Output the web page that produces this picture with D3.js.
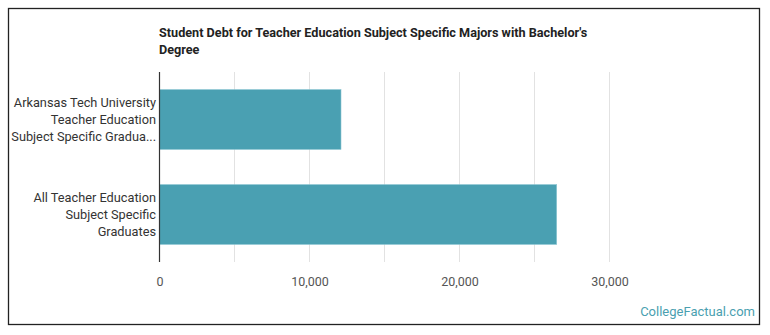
<!DOCTYPE html>
<html><head><meta charset="utf-8">
<script src="https://cdnjs.cloudflare.com/ajax/libs/d3/7.8.5/d3.min.js"></script>
<style>body{margin:0;background:#fff;}svg{display:block;font-family:Roboto,sans-serif;}</style>
</head><body><svg id="c" width="770" height="335"></svg>
<script>
const categories = [
  ["Arkansas Tech University", "Teacher Education", "Subject Specific Gradua..."],
  ["All Teacher Education", "Subject Specific", "Graduates"]
];
const values = [12100, 26480];
const tickValues = [0, 10000, 20000, 30000];
const gridValues = [0, 5000, 10000, 15000, 20000, 25000, 30000];
const titleLines = ["Student Debt for Teacher Education Subject Specific Majors with Bachelor's", "Degree"];

(function () {
const svg = d3.select("#c");
svg.append("rect").attr("x", 8.5).attr("y", 8.5).attr("width", 751).attr("height", 316)
  .attr("fill", "#fff").attr("stroke", "#222").attr("stroke-width", 1.3);

const plotLeft = 159.5, plotTop = 72, plotBottom = 262;
const x = d3.scaleLinear().domain([0, 10000]).range([plotLeft, plotLeft + 150]);
const y = d3.scaleBand().domain(d3.range(categories.length)).range([plotTop, plotBottom]).paddingInner(0.37).paddingOuter(0.185);

svg.append("g").selectAll("line").data(gridValues).join("line")
  .attr("x1", d => x(d)).attr("x2", d => x(d)).attr("y1", plotTop).attr("y2", plotBottom)
  .attr("stroke", "#e2e2e2").attr("stroke-width", 1);

svg.append("g").selectAll("rect").data(values).join("rect")
  .attr("x", x(0)).attr("y", (d, i) => y(i)).attr("width", d => x(d) - x(0)).attr("height", y.bandwidth())
  .attr("fill", "#4aa0b2").attr("stroke", "#8cc6d2").attr("stroke-width", 0.6);

svg.append("line").attr("x1", x(0)).attr("x2", x(0)).attr("y1", plotTop).attr("y2", plotBottom)
  .attr("stroke", "#333").attr("stroke-width", 1.2);

const ax = d3.axisBottom(x).tickValues(tickValues).tickFormat(d3.format(",")).tickSize(0).tickPadding(0);
const axg = svg.append("g").attr("transform", `translate(0,${plotBottom})`).call(ax);
axg.select(".domain").remove();
axg.selectAll("text").attr("y", 24).attr("dy", 0).attr("font-size", 12.5).attr("fill", "#555").attr("font-family", "Roboto, sans-serif");

const lg = svg.append("g");
categories.forEach((lines, i) => {
  const cy = y(i) + y.bandwidth() / 2;
  lines.forEach((t, j) => {
    lg.append("text").attr("x", 156).attr("y", cy + (j - 1) * 16.6 + 4.5)
      .attr("text-anchor", "end").attr("font-size", 12.75).attr("fill", "#333").text(t);
  });
});

titleLines.forEach((t, j) => {
  svg.append("text").attr("x", 159).attr("y", 37 + j * 17).attr("font-size", 12.65)
    .attr("font-weight", "bold").attr("fill", "#222").text(t);
});

svg.append("text").attr("x", 755).attr("y", 316).attr("text-anchor", "end")
  .attr("font-size", 13).attr("fill", "#4a9fb0").text("CollegeFactual.com");
})();
</script></body></html>
